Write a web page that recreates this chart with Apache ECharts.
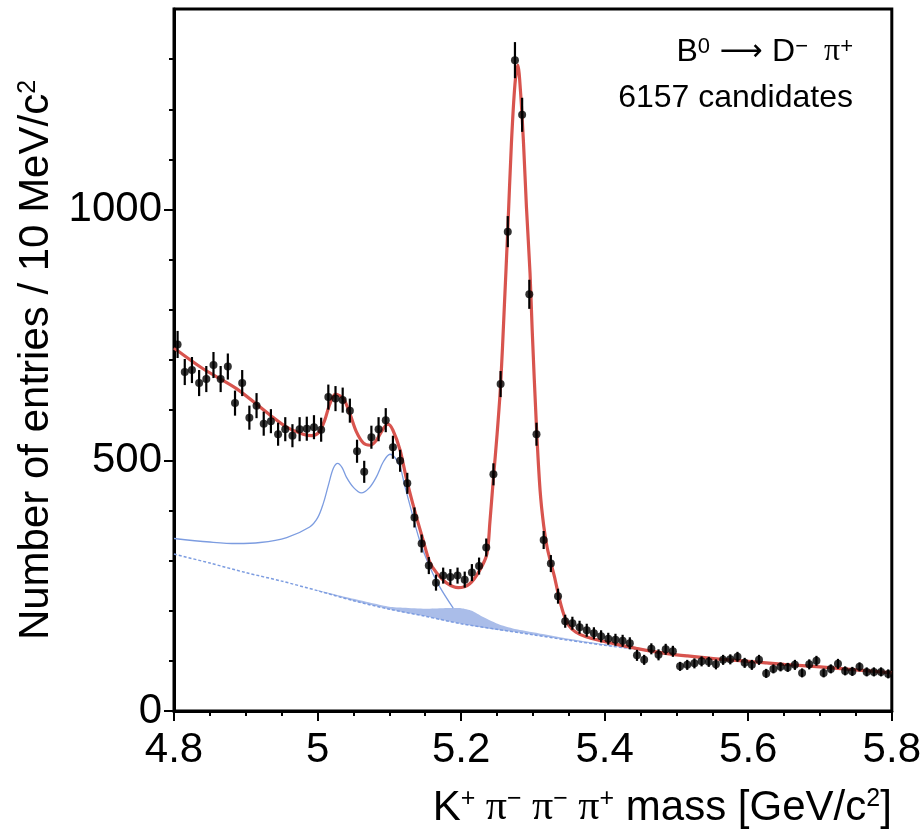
<!DOCTYPE html>
<html><head><meta charset="utf-8">
<script src="https://cdn.jsdelivr.net/npm/echarts@6/dist/echarts.min.js"></script>
<style>html,body{margin:0;padding:0;background:#fff}#c{width:924px;height:835px}</style>
</head><body><div id="c"></div>
<script>
// ---- data ----
const massBins = [4.805,4.815,4.825,4.835,4.845,4.855,4.865,4.875,4.885,4.895,
4.905,4.915,4.925,4.935,4.945,4.955,4.965,4.975,4.985,4.995,
5.005,5.015,5.025,5.035,5.045,5.055,5.065,5.075,5.085,5.095,
5.105,5.115,5.125,5.135,5.145,5.155,5.165,5.175,5.185,5.195,
5.205,5.215,5.225,5.235,5.245,5.255,5.265,5.275,5.285,5.295,
5.305,5.315,5.325,5.335,5.345,5.355,5.365,5.375,5.385,5.395,
5.405,5.415,5.425,5.435,5.445,5.455,5.465,5.475,5.485,5.495,
5.505,5.515,5.525,5.535,5.545,5.555,5.565,5.575,5.585,5.595,
5.605,5.615,5.625,5.635,5.645,5.655,5.665,5.675,5.685,5.695,
5.705,5.715,5.725,5.735,5.745,5.755,5.765,5.775,5.785,5.795];
const counts = [731,676,680,654,662,690,662,687,614,654,
585,609,573,578,552,562,549,562,563,566,
561,626,623,620,599,518,477,546,562,580,
526,499,454,386,334,290,256,270,267,270,
262,276,289,326,472,652,956,1298,1189,831,
552,341,294,229,179,175,167,161,155,149,
144,142,140,135,111,102,124,112,123,119,
89,92,95,99,98,93,102,103,108,96,
92,102,75,84,88,87,92,76,93,100,
76,84,94,80,79,88,78,78,78,74];
const countErrors = [27,26,26,26,26,26,26,26,25,26,
24,25,24,24,23,24,23,24,24,24,
24,25,25,25,24,23,22,23,24,24,
23,22,21,20,18,17,16,16,16,16,
16,17,17,18,22,26,31,36,34,29,
23,18,17,15,13,13,13,13,12,12,
12,12,12,12,11,10,11,11,11,11,
9,10,10,10,10,10,10,10,10,10,
10,10,9,9,9,9,10,9,10,10,
9,9,10,9,9,9,9,9,9,9];

// total fit (red)
const fitX = [4.800,4.840,4.887,4.934,4.957,4.980,4.992,5.002,5.010,5.017,5.025,5.036,5.045,5.054,5.064,5.073,5.082,5.091,5.098,5.105,
5.115,5.124,5.135,5.147,5.156,5.166,5.180,5.196,5.212,5.226,5.236,5.240,5.245,5.250,5.255,5.260,5.265,5.270,5.275,5.279,
5.283,5.287,5.291,5.296,5.299,5.305,5.310,5.315,5.320,5.326,5.330,5.336,5.342,5.349,5.360,5.374,5.398,5.420,5.444,5.467,
5.490,5.514,5.555,5.600,5.650,5.700,5.750,5.800];
const fitY = [724,683,643,590,566,552,549,556,580,612,632,623,593,557,534,530,540,562,572,560,
520,462,401,341,298,275,255,246,254,281,314,375,465,550,650,800,960,1130,1250,1288,
1230,1130,1005,873,760,565,440,370,325,290,268,229,197,172,157,148,139,132,125,119,
114,110,104,99,93,88,82,76];

// background + partially reconstructed component (blue solid)
const partX = [4.800,4.850,4.887,4.920,4.957,4.989,5.000,5.008,5.015,5.022,5.028,5.034,5.040,5.050,5.061,5.072,5.082,5.092,5.101,5.108,5.115,5.121,5.128,5.142,5.156,5.170,5.189];
const partY = [344,337,334,336,346,367,385,414,450,484,494,486,467,446,435,445,467,498,512,505,487,452,414,341,288,248,205];

// combinatorial background (blue dashed)
const bkgX = [4.80,4.85,4.90,4.95,5.00,5.05,5.10,5.15,5.20,5.25,5.30,5.35,5.40,5.45,5.50,5.55,5.60,5.65,5.70,5.75,5.80];
const bkgY = [313,295,276,259,240,220,203,189,174,163,152,141,131,122,113,105,98,92,87,81,76];

// shaded component
const shadeX    = [5.00,5.05,5.10,5.12,5.15,5.175,5.20,5.215,5.23,5.254,5.277,5.30,5.35,5.40,5.45];
const shadeLow  = [240,220,203,197,189,181,174,170,166,161,157,152,141,131,122];
const shadeHigh = [241,224,208,206,204,205,205,200,188,172,163,157,144,133,122];

// ticks
const xTickValues = [4.8,5.0,5.2,5.4,5.6,5.8];
const xTickLabels = ['4.8','5','5.2','5.4','5.6','5.8'];
const yTickValues = [0,500,1000];
const yTickLabels = ['0','500','1000'];
const yMinorTickValues = [100,200,300,400,600,700,800,900,1100,1200,1300];

// ---- chart ----
const FONT = 'Liberation Sans';
const SERIF = 'Liberation Serif';
const RED = '#d8544e';
const BLUE = '#7c9ce0';
const SHADE = '#aabde9';

function labelFor(values, labels) {
  return function (v) {
    const i = values.findIndex(t => Math.abs(t - v) < 1e-6);
    return i >= 0 ? labels[i] : '';
  };
}
const zip = (xs, ys) => xs.map((x, i) => [x, ys[i]]);

const chart = echarts.init(document.getElementById('c'), null, {renderer: 'canvas'});
const supRich = {
  t: {fontFamily: FONT, fontSize: 42, color: '#000'},
  p: {fontFamily: SERIF, fontSize: 42, color: '#000'},
  s: {fontFamily: FONT, fontSize: 25, color: '#000', verticalAlign: 'top'}
};

const option = {
  animation: false,
  backgroundColor: '#fff',
  grid: {left: 174, right: 31.5, top: 9, bottom: 124, show: true, borderColor: '#000', borderWidth: 3, backgroundColor: 'transparent'},
  xAxis: {
    type: 'value', min: 4.8, max: 5.8, interval: 0.2,
    axisLine: {show: true, onZero: false, lineStyle: {color: '#000', width: 3}},
    axisTick: {show: true, inside: false, length: 10, lineStyle: {color: '#000', width: 2}},
    minorTick: {show: true, splitNumber: 4, length: 5, lineStyle: {color: '#000', width: 2}},
    splitLine: {show: false}, minorSplitLine: {show: false},
    axisLabel: {margin: 18, fontFamily: FONT, fontSize: 42, color: '#000', formatter: labelFor(xTickValues, xTickLabels)},
    name: '{t|K}{s|+}{p| π}{s|−}{p| π}{s|−}{p| π}{s|+}{t| mass [GeV/c}{s|2}{t|]}',
    nameLocation: 'end', nameGap: 0,
    nameTextStyle: {align: 'right', verticalAlign: 'top', padding: [76, 0, 0, 0], rich: supRich}
  },
  yAxis: [{
    type: 'value', min: 0, max: 1400, interval: 100, position: 'left',
    axisLine: {show: true, onZero: false, lineStyle: {color: '#000', width: 3}},
    axisTick: {show: true, inside: false, length: 10, customValues: yTickValues, lineStyle: {color: '#000', width: 2}},
    splitLine: {show: false},
    axisLabel: {margin: 12, fontFamily: FONT, fontSize: 42, color: '#000', customValues: yTickValues, formatter: labelFor(yTickValues, yTickLabels)},
    name: '{t|Number of entries / 10 MeV/c}{s|2}',
    nameLocation: 'middle', nameGap: 112, nameRotate: 90,
    nameTextStyle: {rich: supRich}
  }, {
    type: 'value', min: 0, max: 1400, interval: 100, position: 'left', offset: 0,
    axisLine: {show: false},
    axisTick: {show: true, inside: false, length: 5, customValues: yMinorTickValues, lineStyle: {color: '#000', width: 2}},
    axisLabel: {show: false},
    splitLine: {show: false}
  }],
  graphic: [{
    type: 'text', right: 71, top: 36,
    style: {
      text: '{n|B}{s|0}{a| ⟶ }{n|D}{s|−}{p|  π}{s|+}',
      rich: {
        n: {fontFamily: FONT, fontSize: 32, color: '#000'},
        a: {fontFamily: 'DejaVu Sans', fontSize: 30, color: '#000'},
        p: {fontFamily: SERIF, fontSize: 32, color: '#000'},
        s: {fontFamily: FONT, fontSize: 22, color: '#000', verticalAlign: 'top'}
      }
    }
  }, {
    type: 'text', right: 71, top: 82,
    style: {text: '6157 candidates', font: '32px "Liberation Sans"', fill: '#000'}
  }],
  series: [{
    type: 'custom', name: 'shade', coordinateSystem: 'cartesian2d', silent: true, z: 1,
    data: [[shadeX[0], shadeLow[0]]],
    renderItem: function (params, api) {
      const pts = [];
      for (let i = 0; i < shadeX.length; i++) pts.push(api.coord([shadeX[i], shadeHigh[i]]));
      for (let i = shadeX.length - 1; i >= 0; i--) pts.push(api.coord([shadeX[i], shadeLow[i]]));
      return {type: 'polygon', shape: {points: pts, smooth: 0.2}, style: {fill: SHADE}};
    }
  }, {
    type: 'line', name: 'background', data: zip(bkgX, bkgY), symbol: 'none', smooth: 0.3, z: 2,
    lineStyle: {color: BLUE, width: 1.5, type: [3, 2]}
  }, {
    type: 'line', name: 'partial', data: zip(partX, partY), symbol: 'none', smooth: 0.35, z: 3,
    lineStyle: {color: BLUE, width: 1.3}
  }, {
    type: 'line', name: 'fit', data: zip(fitX, fitY), symbol: 'none', smooth: 0.3, z: 4,
    lineStyle: {color: RED, width: 3.2}
  }, {
    type: 'custom', name: 'errors', coordinateSystem: 'cartesian2d', z: 5,
    dimensions: ['x', 'y', 'err'], encode: {x: 0, y: 1},
    data: massBins.map((x, i) => [x, counts[i], countErrors[i]]),
    renderItem: function (params, api) {
      const x = api.value(0), y = api.value(1), e = api.value(2);
      const a = api.coord([x, y - e]), b = api.coord([x, y + e]);
      return {type: 'line', shape: {x1: a[0], y1: a[1], x2: b[0], y2: b[1]}, style: {stroke: '#000', lineWidth: 2.2}};
    }
  }, {
    type: 'scatter', name: 'data', data: zip(massBins, counts), symbol: 'circle', symbolSize: 8, z: 6,
    itemStyle: {color: '#000'}
  }]
};
chart.setOption(option);
</script>
</body></html>
